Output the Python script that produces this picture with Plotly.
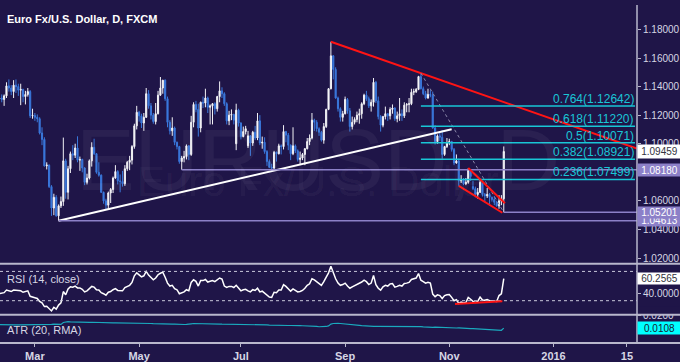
import plotly.graph_objects as go
import pandas as pd

# ---------------- data (EUR/USD daily) ----------------
dates = pd.bdate_range("2015-02-02", "2015-12-03")

opens = [
    # Feb
    1.1285,1.1345,1.1475,1.1345,1.1475,1.1315,1.1320,1.1310,1.1335,1.1405,1.1390,1.1365,1.1410,1.1400,1.1375,1.1380,1.1330,1.1345,1.1365,1.1195,
    # Mar
    1.1198,1.1185,1.1175,1.1075,1.1030,1.0845,1.0850,1.0700,1.0550,1.0625,1.0495,1.0565,1.0595,1.0880,1.0660,1.0825,1.0930,1.0920,1.0970,1.0885,1.0890,1.0830,
    # Apr
    1.0730,1.0760,1.0880,1.0975,1.0930,1.0800,1.0780,1.0660,1.0600,1.0570,1.0655,1.0680,1.0760,1.0805,1.0740,1.0735,1.0720,1.0825,1.0870,1.0885,1.0980,1.1125,
    # May
    1.1220,1.1195,1.1145,1.1185,1.1350,1.1265,1.1200,1.1155,1.1210,1.1340,1.1390,1.1445,1.1315,1.1150,1.1090,1.1110,1.1010,1.0980,1.0875,1.0900,1.0910,
    # Jun
    1.0985,1.0925,1.1150,1.1275,1.1240,1.1110,1.1290,1.1285,1.1320,1.1255,1.1265,1.1280,1.1245,1.1330,1.1370,1.1350,1.1280,1.1160,1.1200,1.1205,1.1000,1.1235,
    # Jul
    1.1145,1.1050,1.1085,1.0985,1.1055,1.1005,1.1080,1.1040,1.1160,1.1005,1.1010,1.0945,1.0875,1.0835,1.0830,1.0940,1.0930,1.0985,1.0980,1.1085,1.1060,1.0990,1.0930,
    # Aug
    1.0985,1.0950,1.0890,1.0900,1.0925,1.0965,1.1015,1.1040,1.1165,1.1150,1.1105,1.1080,1.1025,1.1120,1.1240,1.1385,1.1615,1.1520,1.1320,1.1245,1.1185,
    # Sep
    1.1210,1.1310,1.1230,1.1120,1.1150,1.1170,1.1200,1.1210,1.1280,1.1340,1.1315,1.1265,1.1290,1.1430,1.1300,1.1190,1.1130,1.1190,1.1210,1.1195,1.1240,1.1250,
    # Oct
    1.1175,1.1195,1.1210,1.1195,1.1270,1.1275,1.1280,1.1360,1.1365,1.1380,1.1470,1.1385,1.1350,1.1320,1.1345,1.1340,1.1110,1.1015,1.1055,1.1045,1.0925,1.0980,
    # Nov
    1.1005,1.1015,1.0960,1.0865,1.0880,1.0740,1.0750,1.0720,1.0730,1.0815,1.0700,1.0685,1.0645,1.0660,1.0730,1.0645,1.0635,1.0645,1.0625,1.0610,1.0590,
    # Dec
    1.0565,1.0600,1.0615,
]
highs = [
    1.1365,1.1534,1.1495,1.1485,1.1490,1.1345,1.1345,1.1345,1.1430,1.1450,1.1410,1.1445,1.1450,1.1420,1.1420,1.1385,1.1370,1.1390,1.1375,1.1245,
    1.1215,1.1205,1.1185,1.1115,1.1045,1.0870,1.0855,1.0710,1.0650,1.0640,1.0575,1.0630,1.1043,1.0895,1.0845,1.0945,1.0990,1.1000,1.1052,1.0910,1.0895,1.0835,
    1.0790,1.0890,1.1010,1.1035,1.0935,1.0870,1.0785,1.0665,1.0615,1.0665,1.0690,1.0770,1.0850,1.0815,1.0785,1.0810,1.0850,1.0880,1.0915,1.0990,1.1140,1.1265,
    1.1230,1.1210,1.1215,1.1390,1.1375,1.1285,1.1215,1.1285,1.1370,1.1467,1.1445,1.1450,1.1330,1.1165,1.1185,1.1120,1.1015,1.0985,1.0915,1.0950,1.0995,
    1.0990,1.1195,1.1290,1.1300,1.1280,1.1295,1.1330,1.1385,1.1330,1.1275,1.1285,1.1290,1.1335,1.1436,1.1395,1.1360,1.1290,1.1230,1.1240,1.1210,1.1280,1.1245,
    1.1150,1.1120,1.1125,1.1090,1.1060,1.1090,1.1125,1.1215,1.1200,1.1050,1.1045,1.0955,1.0890,1.0860,1.0950,1.0945,1.1000,1.0995,1.1130,1.1090,1.1075,1.0995,1.1115,
    1.0995,1.0960,1.0945,1.0935,1.0970,1.1040,1.1065,1.1215,1.1175,1.1165,1.1115,1.1090,1.1145,1.1245,1.1390,1.1714,1.1620,1.1535,1.1330,1.1255,1.1230,
    1.1330,1.1320,1.1250,1.1190,1.1185,1.1225,1.1245,1.1290,1.1350,1.1370,1.1330,1.1310,1.1460,1.1440,1.1330,1.1200,1.1195,1.1260,1.1215,1.1255,1.1275,1.1255,
    1.1225,1.1320,1.1240,1.1290,1.1285,1.1320,1.1385,1.1385,1.1390,1.1475,1.14941,1.1400,1.1370,1.1385,1.1375,1.1365,1.1130,1.1065,1.1075,1.1095,1.0985,1.1040,
    1.1035,1.1020,1.0970,1.0925,1.0895,1.0780,1.0760,1.0760,1.0830,1.0820,1.0740,1.0700,1.0690,1.0750,1.0735,1.0655,1.0690,1.0655,1.0630,1.0635,1.0600,
    1.0640,1.0640,1.0981,
]
lows = [
    1.1270,1.1315,1.1335,1.1340,1.1310,1.1270,1.1290,1.1265,1.1320,1.1365,1.1340,1.1320,1.1355,1.1335,1.1270,1.1290,1.1275,1.1330,1.1180,1.1175,
    1.1160,1.1150,1.1065,1.0990,1.0840,1.0820,1.0690,1.0495,1.0500,1.0490,1.04613,1.0550,1.0565,1.0615,1.0610,1.0795,1.0885,1.0900,1.0870,1.0810,1.0800,1.0710,
    1.0715,1.0750,1.0840,1.0920,1.0790,1.0770,1.0655,1.0580,1.0540,1.0545,1.0585,1.0655,1.0755,1.0715,1.0660,1.0700,1.0705,1.0810,1.0815,1.0855,1.0965,1.1100,
    1.1155,1.1110,1.1090,1.1180,1.1245,1.1170,1.1140,1.1135,1.1205,1.1335,1.1350,1.1300,1.1115,1.1065,1.1055,1.0990,1.0960,1.0860,1.0818,1.0870,1.0890,
    1.0885,1.0915,1.1115,1.1220,1.1050,1.1080,1.1250,1.1255,1.1215,1.1135,1.1135,1.1205,1.1225,1.1290,1.1320,1.1265,1.1135,1.1130,1.1165,1.1135,1.0955,1.1120,
    1.1030,1.1045,1.1065,1.0970,1.0915,1.0985,1.1025,1.1025,1.0990,1.0965,1.0930,1.0845,1.0830,1.0808,1.0820,1.0875,1.0925,1.0925,1.0960,1.1010,1.0955,1.0885,1.0920,
    1.0935,1.0875,1.0850,1.0885,1.0850,1.0960,1.0990,1.1030,1.1090,1.1085,1.1055,1.1015,1.1000,1.1110,1.1235,1.1380,1.1450,1.1315,1.1225,1.1155,1.1155,
    1.1205,1.1210,1.1085,1.1100,1.1135,1.1150,1.1140,1.1175,1.1270,1.1300,1.1250,1.1225,1.1260,1.1285,1.1170,1.1085,1.1115,1.1170,1.1160,1.1170,1.1210,1.1160,
    1.1150,1.1160,1.1160,1.1180,1.1220,1.1220,1.1270,1.1340,1.1355,1.1375,1.1380,1.1340,1.1310,1.1315,1.1325,1.1105,1.0995,1.1000,1.1020,1.0895,1.0915,1.0970,
    1.0990,1.0945,1.0850,1.0860,1.0705,1.0725,1.0710,1.0710,1.0720,1.0740,1.0675,1.0625,1.0615,1.0655,1.0630,1.0590,1.0620,1.0565,1.0595,1.0570,1.0560,
    1.0545,1.0570,1.05201,
]
closes = [
    1.1345,1.1475,1.1345,1.1475,1.1315,1.1320,1.1310,1.1335,1.1405,1.1390,1.1365,1.1410,1.1400,1.1375,1.1380,1.1330,1.1345,1.1365,1.1195,1.1198,
    1.1185,1.1175,1.1075,1.1030,1.0845,1.0850,1.0700,1.0550,1.0625,1.0495,1.0565,1.0595,1.0880,1.0660,1.0825,1.0930,1.0920,1.0970,1.0885,1.0890,1.0830,1.0730,
    1.0760,1.0880,1.0975,1.0930,1.0800,1.0780,1.0660,1.0600,1.0570,1.0655,1.0680,1.0760,1.0805,1.0740,1.0735,1.0720,1.0825,1.0870,1.0885,1.0980,1.1125,1.1220,
    1.1195,1.1145,1.1185,1.1350,1.1265,1.1200,1.1155,1.1210,1.1340,1.1390,1.1445,1.1315,1.1150,1.1090,1.1110,1.1010,1.0980,1.0875,1.0900,1.0910,1.0985,
    1.0925,1.1150,1.1275,1.1240,1.1110,1.1290,1.1285,1.1320,1.1255,1.1265,1.1280,1.1245,1.1330,1.1370,1.1350,1.1280,1.1160,1.1200,1.1205,1.1165,1.1235,1.1145,
    1.1050,1.1085,1.1105,1.1055,1.1005,1.1080,1.1040,1.1160,1.1005,1.1010,1.0945,1.0875,1.0835,1.0830,1.0940,1.0930,1.0985,1.0980,1.1085,1.1060,1.0990,1.0930,1.0985,
    1.0950,1.0890,1.0900,1.0925,1.0965,1.1015,1.1040,1.1165,1.1150,1.1105,1.1080,1.1025,1.1120,1.1240,1.1385,1.1615,1.1520,1.1320,1.1245,1.1185,1.1210,
    1.1310,1.1230,1.1120,1.1150,1.1170,1.1200,1.1210,1.1280,1.1340,1.1315,1.1265,1.1290,1.1430,1.1300,1.1190,1.1130,1.1190,1.1210,1.1195,1.1240,1.1250,1.1175,
    1.1195,1.1210,1.1195,1.1270,1.1275,1.1280,1.1360,1.1365,1.1380,1.1470,1.1385,1.1350,1.1320,1.1345,1.1340,1.1110,1.1015,1.1055,1.1045,1.0925,1.0980,1.1005,
    1.1015,1.0960,1.0865,1.0880,1.0740,1.0750,1.0720,1.0730,1.0815,1.0770,1.0685,1.0645,1.0660,1.0730,1.0645,1.0635,1.0645,1.0625,1.0610,1.0590,1.0565,
    1.0600,1.0615,1.09459,
]
rsi = [
    36,47,41,46,39,39.5,39.5,41,44.5,43.5,42.5,44.5,44,43,43.5,41.5,42.5,43.5,36,35.5,
    34,33,29,27,22,22.5,18.5,16,21,18.5,24,27,42.5,38,46,49,48.5,50,47.5,47.5,45.5,42,
    43.5,46.5,49.5,48.5,45,44.5,41,39.5,37.5,41.5,42.5,45,46.5,44,44,43.5,48,50,51,55,64,68,
    65,62.5,64,70,65,62,58.5,61,65.5,67.5,69,62,54,50,51,46.5,45,39.5,41,42,45,
    43.5,55,58.5,56.5,50,57.5,57.5,59,55.5,56.5,57.5,56,59,61,59.5,50,48,49.5,49.5,48,51,47,
    43.5,45,45.5,43.5,42,45,44,47,42,43,40,37,35,34.5,41.5,41,44.5,44.5,52,49.5,46,43,46,
    44.5,42,42.5,44,47,51,53,60,58.5,56,54,51,56,62,68,77,67,60,54,51,52,
    54,50,47,49,50.5,52,53,55.5,58,56,52,54,64.5,52,47,44.5,49,51,50,53,53.5,48.5,
    49.5,51,50,53.5,54,55,59,59.5,61,67,58,56,54,55,54,39,35.5,38,37,33,37,38,
    38.5,34.5,30,31.5,26.2,28,27,27.5,34.5,32,29,27.5,29,35,31,30.5,31.5,30,30,29.5,29,
    37,39.5,60.2565,
]
atr = [
    0.0134,0.0136,0.0135,0.0135,0.0134,0.0133,0.0133,0.0132,0.0132,0.0132,0.0131,0.0131,0.0131,0.0131,0.0131,0.0131,0.0130,0.0130,0.0131,0.0131,
    0.0130,0.0130,0.0130,0.0131,0.0133,0.0131,0.0132,0.0135,0.0136,0.0137,0.0137,0.0135,0.0148,0.0152,0.0154,0.0153,0.0152,0.0151,0.0152,0.0151,0.0150,0.0150,
    0.0149,0.0149,0.0150,0.0149,0.0149,0.0148,0.0148,0.0148,0.0147,0.0147,0.0147,0.0146,0.0146,0.0146,0.0146,0.0145,0.0145,0.0144,0.0143,0.0143,0.0144,0.0145,
    0.0144,0.0143,0.0142,0.0143,0.0142,0.0141,0.0140,0.0139,0.0139,0.0140,0.0139,0.0138,0.0139,0.0138,0.0137,0.0137,0.0135,0.0135,0.0134,0.0134,0.0135,
    0.0135,0.0139,0.0141,0.0141,0.0142,0.0142,0.0141,0.0140,0.0139,0.0139,0.0139,0.0138,0.0137,0.0137,0.0136,0.0136,0.0136,0.0135,0.0134,0.0133,0.0136,0.0135,
    0.0134,0.0133,0.0132,0.0132,0.0132,0.0132,0.0131,0.0132,0.0133,0.0132,0.0131,0.0131,0.0130,0.0129,0.0128,0.0128,0.0128,0.0127,0.0127,0.0128,0.0127,0.0127,0.0128,
    0.0127,0.0126,0.0126,0.0125,0.0125,0.0124,0.0123,0.0124,0.0122,0.0120,0.0118,0.0117,0.0118,0.0120,0.0124,0.0137,0.0141,0.0143,0.0142,0.0141,0.0140,
    0.0139,0.0137,0.0136,0.0134,0.0132,0.0130,0.0128,0.0126,0.0124,0.0122,0.0121,0.0120,0.0121,0.0121,0.0121,0.0121,0.0121,0.0122,0.0122,0.0122,0.0123,0.0123,
    0.0123,0.0124,0.0124,0.0124,0.0124,0.0124,0.0124,0.0123,0.0122,0.0121,0.0119,0.0117,0.0115,0.0112,0.0110,0.0113,0.0115,0.0114,0.0113,0.0114,0.0113,0.0112,
    0.0111,0.0110,0.0110,0.0109,0.0110,0.0108,0.0107,0.0106,0.0106,0.0105,0.0105,0.0104,0.0103,0.0103,0.0102,0.0100,0.0099,0.0098,0.0097,0.0095,0.0094,
    0.0094,0.0093,0.0108,
]
for name, arr in [("opens", opens), ("highs", highs), ("lows", lows), ("closes", closes), ("rsi", rsi), ("atr", atr)]:
    assert len(arr) == len(dates), (name, len(arr), len(dates))

# x-axis labels
tick_dates = ["2015-03-02", "2015-05-01", "2015-07-01", "2015-09-01", "2015-11-02", "2016-01-01", "2016-02-15"]
tick_text = ["Mar", "May", "Jul", "Sep", "Nov", "2016", "15"]

# Fibonacci retracement (Oct 15 high -> Dec 3 low)
fib_ratios = ["0.236", "0.382", "0.5", "0.618", "0.764"]
fib_levels = [1.07499, 1.08921, 1.10071, 1.11220, 1.12642]

# ---------------- helpers ----------------
axis_days = pd.bdate_range("2015-02-02", "2016-03-31")
pos = {d.strftime("%Y-%m-%d"): k for k, d in enumerate(axis_days)}
xk = list(range(len(dates)))
idx = {d.strftime("%Y-%m-%d"): k for k, d in enumerate(dates)}

PW, PH = 637.0, 346.0          # plot area in px
X0 = 5.26
X1 = X0 + PW / 2.368
def px(x):  # px -> paper x
    return x / PW
def py(y):  # px -> paper y
    return 1 - y / PH

BG = "#1f1548"
FONT = "Liberation Sans, Arial, sans-serif"
AXC = "#b9b7cc"
TXT = "#d6d6e4"
BLUE = "#3a78dc"
CYAN = "#19c6d6"
LAV = "#8c80c8"
RED = "#ff1414"

fig = go.Figure()
fig.add_trace(go.Candlestick(
    x=xk, open=opens, high=highs, low=lows, close=closes,
    increasing=dict(line=dict(color="#f2f2f6", width=1), fillcolor="#ffffff"),
    decreasing=dict(line=dict(color=BLUE, width=1), fillcolor=BLUE),
    whiskerwidth=0, xaxis="x", yaxis="y", hoverinfo="skip"))
fig.add_trace(go.Scatter(x=xk, y=rsi, mode="lines", line=dict(color="#ffffff", width=1.5),
                         xaxis="x", yaxis="y2", hoverinfo="skip"))
fig.add_trace(go.Scatter(x=xk, y=atr, mode="lines", line=dict(color="#1aa9bd", width=1.2),
                         xaxis="x", yaxis="y3", hoverinfo="skip"))

shapes = []
def seg(x0, y0, x1, y1, color, width=2, dash="solid", yref="y", xref="x", layer="above"):
    shapes.append(dict(type="line", xref=xref, yref=yref, x0=x0, y0=y0, x1=x1, y1=y1,
                       line=dict(color=color, width=width, dash=dash), layer=layer))

# support line through the March 16 and July 20 lows
ka, kb = idx["2015-03-16"], idx["2015-07-20"]
pa, pb = lows[ka], lows[kb]
kend = idx["2015-11-03"]
seg(ka, pa, kend, pa + (pb - pa) * (kend - ka) / (kb - ka), "#ffffff", 2)

# resistance through Aug 24 and Oct 15 highs
ka, kb = idx["2015-08-24"], idx["2015-10-15"]
pa, pb = highs[ka], highs[kb]
seg(ka, pa, X1, pa + (pb - pa) * (X1 - ka) / (kb - ka), RED, 2)

# horizontal levels
for d, src in [("2015-03-16", lows), ("2015-05-27", lows), ("2015-12-03", lows)]:
    k = idx[d]
    seg(k, src[k], X1, src[k], LAV, 1.5)

# fib dashed diagonal and levels
kh, kl = idx["2015-10-15"], idx["2015-12-03"]
seg(kh, highs[kh], kl, lows[kl], "#8a88a8", 1, "dot")
for lv in fib_levels:
    seg(kh, lv, X0 + 635 / 2.368, lv, CYAN, 1.5)

# falling wedge
seg(idx["2015-11-12"], highs[idx["2015-11-12"]], idx["2015-12-03"] + 0.5, 1.0583, RED, 2)
seg(idx["2015-11-06"], lows[idx["2015-11-06"]], idx["2015-12-02"] + 0.4, 1.0517, RED, 2)

# RSI levels and RSI support
for lv in (70, 30):
    seg(0, lv, 1, lv, "#c9c7da", 1, "dot", yref="y2", xref="paper")
seg(idx["2015-11-06"] - 1.6, 25.6, idx["2015-12-02"] + 0.4, 29.2, RED, 2, yref="y2")

# mask for the clipped ATR tick, then panel separators & axis line
shapes.append(dict(type="rect", xref="paper", yref="paper", x0=1.001, x1=680 / PW, y0=py(317), y1=py(309),
                   fillcolor=BG, line=dict(width=0), layer="above"))
for ypx in (265, 317, 346):
    shapes.append(dict(type="line", xref="paper", yref="paper", x0=0, x1=680 / PW, y0=py(ypx), y1=py(ypx),
                       line=dict(color=AXC, width=2), layer="above"))
shapes.append(dict(type="line", xref="paper", yref="paper", x0=1, x1=1, y0=0, y1=1,
                   line=dict(color=AXC, width=1.5), layer="above"))

ann = []
# watermarks
ann.append(dict(text="EURUSD, D", x=px(318), y=py(105), xref="paper", yref="paper", showarrow=False,
                font=dict(family=FONT, size=88, color="rgba(255,255,255,0.05)")))
ann.append(dict(text="Euro Fx/U.S. Dollar", x=px(318), y=py(181), xref="paper", yref="paper", showarrow=False,
                font=dict(family=FONT, size=42, color="rgba(255,255,255,0.05)")))
# title and panel labels
ann.append(dict(text="<b>Euro Fx/U.S. Dollar, D, FXCM</b>", x=px(5), y=py(14), xref="paper", yref="paper",
                xanchor="left", yanchor="middle", showarrow=False, font=dict(family=FONT, size=11, color="#ffffff")))
ann.append(dict(text="RSI (14, close)", x=px(5), y=py(280), xref="paper", yref="paper",
                xanchor="left", yanchor="middle", showarrow=False, font=dict(family=FONT, size=11, color=TXT)))
ann.append(dict(text="ATR (20, RMA)", x=px(5), y=py(333), xref="paper", yref="paper",
                xanchor="left", yanchor="middle", showarrow=False, font=dict(family=FONT, size=11, color=TXT)))
# fib labels
for r, lv in zip(fib_ratios, fib_levels):
    ann.append(dict(text=f"{r}({lv:.5f})", x=px(636), y=lv, xref="paper", yref="y", xanchor="right",
                    yanchor="bottom", yshift=-2, showarrow=False, font=dict(family=FONT, size=12, color=CYAN)))

def tag(text, y, yref, bg, fg, h=12):
    ann.append(dict(text=text, x=1, y=y, xref="paper", yref=yref, xanchor="left", yanchor="middle",
                    showarrow=False, bgcolor=bg, width=43, height=h, borderpad=0, align="center",
                    font=dict(family=FONT, size=10, color=fg)))

tag(f"{lows[idx['2015-03-16']]:.5f}", lows[idx["2015-03-16"]], "y", LAV, "#ffffff", 11)
tag(f"{lows[idx['2015-12-03']]:.5f}", lows[idx["2015-12-03"]], "y", LAV, "#ffffff", 11)
tag(f"{lows[idx['2015-05-27']]:.5f}", lows[idx["2015-05-27"]], "y", LAV, "#ffffff", 12)
tag(f"{closes[-1]:.5f}", closes[-1], "y", "#ffffff", "#333340", 13)
tag(f"{rsi[-1]:.4f}", rsi[-1], "y2", "#ffffff", "#333340", 11)
tag(f"{atr[-1]:.4f}", atr[-1], "y3", "#00ffff", "#1a1a30", 12)

yax_common = dict(side="right", anchor="x", showgrid=False, zeroline=False, showline=False,
                  ticks="outside", ticklen=3, tickcolor=AXC, tickfont=dict(family=FONT, size=10, color=TXT),
                  fixedrange=True)

fig.update_layout(
    width=680, height=362, margin=dict(l=0, r=43, t=0, b=16),
    paper_bgcolor=BG, plot_bgcolor=BG, showlegend=False, boxgap=0.32,
    xaxis=dict(range=[X0, X1], anchor="y3", showgrid=False, zeroline=False, showline=False,
               tickvals=[pos[d] for d in tick_dates], ticktext=tick_text,
               ticks="outside", ticklen=3, tickcolor=AXC,
               tickfont=dict(family=FONT, size=11, color=TXT, weight="bold"),
               rangeslider=dict(visible=False), fixedrange=True),
    yaxis=dict(domain=[py(265), 1], range=[1.0159, 1.1971],
               tickvals=[1.02, 1.04, 1.06, 1.08, 1.10, 1.12, 1.14, 1.16, 1.18], tickformat=".5f", **yax_common),
    yaxis2=dict(domain=[py(317), py(265)], range=[10.9, 80.3], tickvals=[40, 60], tickformat=".4f", **yax_common),
    yaxis3=dict(domain=[0, py(317)], range=[0.0003, 0.02035], tickvals=[0.02], ticktext=["0.0200"], **yax_common),
    shapes=shapes, annotations=ann,
)

fig.write_html("out.html", config={"displayModeBar": False},
               post_script="document.body.style.margin='0';document.body.style.overflow='hidden';"
                           "document.body.style.background='" + BG + "';")
